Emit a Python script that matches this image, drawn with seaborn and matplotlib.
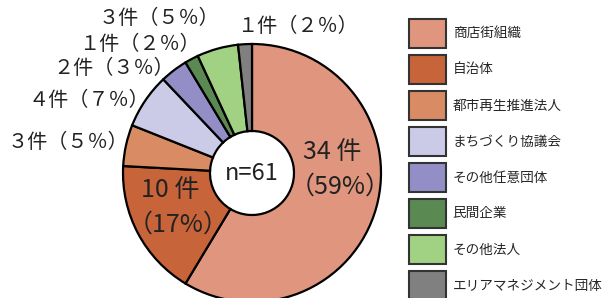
import matplotlib
matplotlib.use('Agg')
import matplotlib.pyplot as plt
import seaborn as sns
from matplotlib.patches import Patch

# データ
categories = ['商店街組織', '自治体', '都市再生推進法人', 'まちづくり協議会',
              'その他任意団体', '民間企業', 'その他法人', 'エリアマネジメント団体']
counts = [34, 10, 3, 4, 2, 1, 3, 1]
percents = [59, 17, 5, 7, 3, 2, 5, 2]
colors = ['#E0967E', '#C8643A', '#D98C64', '#CBCBE7',
          '#938FC6', '#5A8A52', '#A1D183', '#808080']
n_total = 61

sns.set_theme(style='white')
plt.rcParams['font.family'] = ['Noto Sans CJK JP', 'DejaVu Sans']

W, H = 613, 298
fig = plt.figure(figsize=(W / 100, H / 100), dpi=100)
ax = fig.add_axes([0, 0, 1, 1])

# ドーナツ（上から時計回り）
cx, cy, r, r_in = 252, H - 173, 129, 42
ax.pie(counts, colors=colors, startangle=90, counterclock=False,
       center=(cx, cy), radius=r,
       wedgeprops=dict(width=r - r_in, edgecolor='black', linewidth=1.6))
ax.set_xlim(0, W)
ax.set_ylim(0, H)
ax.set_aspect('equal')
ax.axis('off')

ax.text(cx, cy, f'n={n_total}', ha='center', va='center', fontsize=17, color='#222222')

def zen(s):
    return s.translate(str.maketrans('0123456789%()', '０１２３４５６７８９％（）'))

# 内側ラベル
ax.text(332, H - 152, f'{counts[0]} 件', ha='center', va='center', fontsize=18, color='#222222')
ax.text(340, H - 187, f'（{percents[0]}%）', ha='center', va='center', fontsize=18, color='#222222')
ax.text(170, H - 190, f'{counts[1]} 件', ha='center', va='center', fontsize=18, color='#222222')
ax.text(178, H - 225, f'（{percents[1]}%）', ha='center', va='center', fontsize=18, color='#222222')

# 外側ラベル（位置は手動）
label_pos = {2: (68, 143), 3: (89, 100), 4: (114, 68), 5: (139, 45), 6: (159, 18), 7: (297, 27)}
for i, (lx, ly) in label_pos.items():
    ax.text(lx, H - ly, zen(f'{counts[i]}件({percents[i]}%)'), ha='center', va='center',
            fontsize=14.5, color='#222222')

# 凡例
handles = [Patch(facecolor=c, edgecolor='#333333', linewidth=1.5) for c in colors]
fig.legend(handles, categories, loc='upper left', bbox_to_anchor=(409 / W, 1 - 19 / H),
           frameon=False, borderpad=0, borderaxespad=0, fontsize=9.8,
           handlelength=2.7, handleheight=2.85, handletextpad=0.5, labelspacing=0.55)

fig.savefig('out.png', dpi=100)
